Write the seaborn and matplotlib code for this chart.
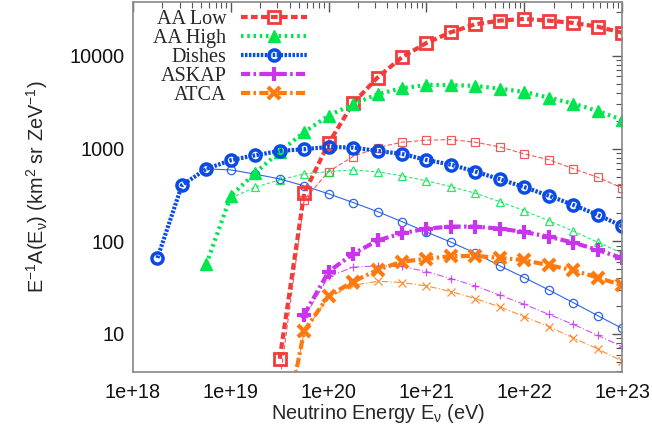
import numpy as np
import pandas as pd
import seaborn as sns
import matplotlib
matplotlib.use("Agg")
import matplotlib.pyplot as plt
from matplotlib.ticker import FixedLocator, FuncFormatter, LogLocator, NullFormatter

# log10 of neutrino energy (eV), quarter-decade grid
logE_dishes = [18.25, 18.5, 18.75, 19.0, 19.25, 19.5, 19.75, 20.0, 20.25, 20.5, 20.75,
               21.0, 21.25, 21.5, 21.75, 22.0, 22.25, 22.5, 22.75, 23.0]
logE_high = [18.75, 19.0, 19.25, 19.5, 19.75, 20.0, 20.25, 20.5, 20.75,
             21.0, 21.25, 21.5, 21.75, 22.0, 22.25, 22.5, 22.75, 23.0]
logE_low = [19.5, 19.75, 20.0, 20.25, 20.5, 20.75, 21.0, 21.25, 21.5, 21.75,
            22.0, 22.25, 22.5, 22.75, 23.0]
logE_askap = [19.75, 20.0, 20.25, 20.5, 20.75, 21.0, 21.25, 21.5, 21.75,
              22.0, 22.25, 22.5, 22.75, 23.0]

# thick curves
aa_low = [5.4, 330, 1143, 3090, 5840, 9680, 13800, 18000, 21980, 24040,
          25060, 24040, 22700, 20700, 17830]
aa_high = [56.6, 309, 547, 928, 1503, 2270, 3010, 3866, 4480, 4860,
           4860, 4745, 4436, 4088, 3550, 3060, 2555, 2040]
dishes = [66, 403, 604, 750, 848, 945, 985, 1043, 1025, 945, 877,
          755, 671, 565, 468, 384, 311, 247, 193, 146]
askap = [16.1, 47.1, 73.1, 102, 122, 137, 144, 144, 137, 126, 112, 96.9, 80.8, 65.8]
atca = [0.5, 10.8, 25.8, 36.7, 49.1, 60.4, 64.6, 69.1, 69.6, 66.2,
        62.5, 55.2, 48.7, 40.6, 33.6]

# thin curves
aa_low_thin = [3.0, 280, 565, 821, 1025, 1172, 1233, 1251, 1172, 1043,
               877, 760, 608, 491, 377]
aa_high_thin = [292, 384, 459, 533, 565, 589, 561, 508, 449, 389, 330,
                268, 214, 167, 129, 97.7, 74.5]
dishes_thin = [604, 589, 530, 471, 396, 325, 262, 209, 163, 126, 98,
               74.4, 54.3, 40.6, 29.9, 21.8, 15.8, 11.5]
askap_thin = [15.1, 41.7, 52.5, 54.3, 53.5, 47.1, 39.6, 33.0, 26.2,
              20.9, 16.3, 12.7, 9.7, 7.3]
atca_thin = [0.5, 10.5, 25, 33.5, 37, 35.9, 33.0, 28.7, 24.1, 19.6,
             15.4, 12.0, 9.1, 6.9, 5.1]

RED, GREEN, BLUE, MAG, ORANGE = "#f23c3c", "#00e64d", "#0a4be6", "#cc33ee", "#ff7a0e"

sns.set_style("white")
plt.rcParams['font.family'] = ['Liberation Sans', 'DejaVu Sans']
plt.rcParams['mathtext.fontset'] = 'custom'
plt.rcParams['mathtext.rm'] = 'Liberation Sans'
plt.rcParams['mathtext.it'] = 'Liberation Sans'

fig = plt.figure(figsize=(6.52, 4.38), dpi=100)
ax = fig.add_axes([0.204, 0.151, 0.750, 0.844])
ax.set_xscale('log')
ax.set_yscale('log')

thick = [
    ("AA Low", logE_low, aa_low, RED, (0, (1.6, 0.8)), 's', 8, 'none', 2.0),
    ("AA High", logE_high, aa_high, GREEN, (0, (0.6, 0.9)), '^', 9, GREEN, 1.0),
    ("Dishes", logE_dishes, dishes, BLUE, (0, (0.6, 0.35)), 'o', 8, 'none', 2.5),
    ("ASKAP", logE_askap, askap, MAG, (0, (2.2, 0.8, 0.6, 0.8)), '+', 10, MAG, 3.0),
    ("ATCA", logE_low, atca, ORANGE, (0, (2.2, 0.8, 0.6, 0.8)), 'x', 9, ORANGE, 3.0),
]
thin = [
    (logE_low, aa_low_thin, RED, (0, (4, 2)), 's'),
    (logE_high[1:], aa_high_thin, GREEN, (0, (3, 2)), '^'),
    (logE_dishes[2:], dishes_thin, BLUE, '-', 'o'),
    (logE_askap, askap_thin, MAG, (0, (6, 2, 1, 2)), '+'),
    (logE_low, atca_thin, ORANGE, (0, (6, 2, 1, 2)), 'x'),
]

for logE, vals, col, ls, mk in thin:
    df = pd.DataFrame({"E": np.power(10.0, logE), "A": vals})
    sns.lineplot(data=df, x="E", y="A", ax=ax, color=col, linestyle=ls, linewidth=0.8,
                 marker=mk, markersize=6, markerfacecolor='none', markeredgecolor=col,
                 markeredgewidth=0.9, estimator=None, legend=False, alpha=0.85)

handles = []
for name, logE, vals, col, ls, mk, ms, mfc, mew in thick:
    df = pd.DataFrame({"E": np.power(10.0, logE), "A": vals})
    sns.lineplot(data=df, x="E", y="A", ax=ax, color=col, linestyle=ls, linewidth=3,
                 marker=mk, markersize=ms, markerfacecolor=mfc, markeredgecolor=col,
                 markeredgewidth=mew, estimator=None, label=name)
    handles.append(ax.get_lines()[-1])

ax.set_xlim(1e18, 1e23)
ax.set_ylim(3.9, 38000)

ax.xaxis.set_major_locator(FixedLocator([1e18, 1e19, 1e20, 1e21, 1e22, 1e23]))
ax.xaxis.set_major_formatter(FuncFormatter(lambda v, p: "1e+%d" % round(np.log10(v))))
ax.yaxis.set_major_locator(FixedLocator([10, 100, 1000, 10000]))
ax.yaxis.set_major_formatter(FuncFormatter(lambda v, p: "%d" % round(v)))
ax.xaxis.set_minor_locator(LogLocator(base=10, subs=np.arange(2, 10)))
ax.yaxis.set_minor_locator(LogLocator(base=10, subs=np.arange(2, 10)))
ax.xaxis.set_minor_formatter(NullFormatter())
ax.yaxis.set_minor_formatter(NullFormatter())
ax.tick_params(which='both', direction='in', top=True, right=True, colors='#555555',
               labelcolor='#111111', labelsize=14.3)
ax.tick_params(which='major', length=7, width=1)
ax.tick_params(which='minor', length=4, width=0.8)
ax.tick_params(axis='x', pad=8)
ax.tick_params(axis='y', pad=6)
for sp in ax.spines.values():
    sp.set_color('#888888')
    sp.set_linewidth(1.2)

ax.set_xlabel(r"Neutrino Energy E$_{\nu}$ (eV)", fontsize=14.3, labelpad=0)
ax.set_ylabel(r"E$^{-1}$A(E$_{\nu}$) (km$^{2}$ sr ZeV$^{-1}$)", fontsize=14.3, labelpad=14)

ax.legend(handles=handles, labels=[t[0] for t in thick], loc='upper left',
          bbox_to_anchor=(0.013, 1.018), frameon=False, markerfirst=False,
          prop={'family': 'Liberation Serif', 'size': 14.5}, handlelength=3.3,
          labelspacing=0.0, handletextpad=0.7, borderaxespad=0.3)

fig.savefig("out.png", dpi=100)
